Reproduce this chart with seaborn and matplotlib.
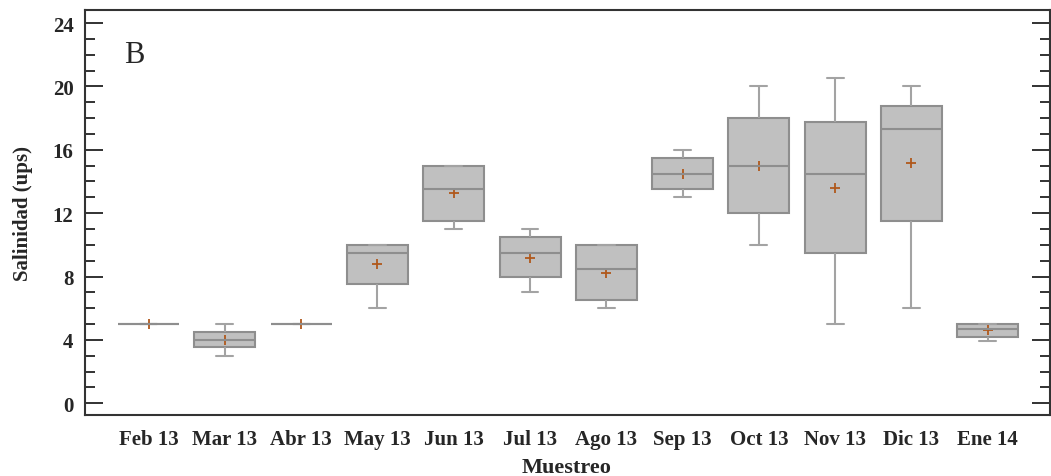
import matplotlib
matplotlib.use("Agg")
import matplotlib.pyplot as plt
from matplotlib.ticker import MultipleLocator
import seaborn as sns
import pandas as pd

months = ["Feb 13", "Mar 13", "Abr 13", "May 13", "Jun 13", "Jul 13",
          "Ago 13", "Sep 13", "Oct 13", "Nov 13", "Dic 13", "Ene 14"]
minimum = [5.0, 3.0, 5.0, 6.0, 11.0, 7.0, 6.0, 13.0, 10.0, 5.0, 6.0, 3.95]
q1      = [5.0, 3.55, 5.0, 7.5, 11.5, 8.0, 6.5, 13.5, 12.0, 9.5, 11.5, 4.2]
median  = [5.0, 4.0, 5.0, 9.5, 13.5, 9.5, 8.5, 14.5, 15.0, 14.5, 17.3, 4.7]
q3      = [5.0, 4.5, 5.0, 10.0, 15.0, 10.5, 10.0, 15.5, 18.0, 17.75, 18.75, 5.0]
maximum = [5.0, 5.0, 5.0, 10.0, 15.0, 11.0, 10.0, 16.0, 20.0, 20.5, 20.05, 5.0]
means   = [5.0, 4.0, 5.0, 8.8, 13.25, 9.2, 8.25, 14.5, 15.0, 13.6, 15.15, 4.65]

rows = []
for i, m in enumerate(months):
    for v in (minimum[i], q1[i], median[i], q3[i], maximum[i]):
        rows.append({"Muestreo": m, "Salinidad": v})
df = pd.DataFrame(rows)

sns.set_style("ticks")
plt.rcParams["font.family"] = ["Liberation Serif", "DejaVu Serif"]

fig = plt.figure(figsize=(10.51, 4.77), dpi=100)
ax = fig.add_axes([0.0804, 0.1279, 0.9182, 0.849])

box_edge = "#8e8e8e"
sns.boxplot(data=df, x="Muestreo", y="Salinidad", order=months, ax=ax,
            whis=(0, 100), width=0.8, color="#c0c0c0", linecolor=box_edge,
            linewidth=1.5, showfliers=False, saturation=1,
            whiskerprops=dict(color="#a3a3a3", linewidth=1.5),
            capprops=dict(color="#a3a3a3", linewidth=1.5),
            medianprops=dict(color=box_edge, linewidth=1.5),
            capwidths=0.22)

sns.pointplot(x=months, y=means, order=months, ax=ax, linestyle="none",
              marker="+", color="#b0581c", markersize=7, markeredgewidth=1.3,
              errorbar=None)

ax.set_xlim(-0.84, 11.81)
ax.set_ylim(-0.74, 24.82)
ax.yaxis.set_major_locator(MultipleLocator(4))
ax.yaxis.set_minor_locator(MultipleLocator(1))

ax.tick_params(axis="y", which="major", direction="in", length=13, width=1.3,
               left=True, right=True, color="#222222", pad=8,
               labelsize=15)
ax.tick_params(axis="y", which="minor", direction="in", length=7, width=1.3,
               left=True, right=True, color="#222222")
ax.tick_params(axis="x", which="both", length=0, pad=10, labelsize=15)
for lab in ax.get_xticklabels() + ax.get_yticklabels():
    lab.set_fontweight("bold")

ax.set_xlabel("Muestreo", fontsize=16, fontweight="bold", labelpad=6)
ax.set_ylabel("Salinidad (ups)", fontsize=15, fontweight="bold", labelpad=14)

for s in ax.spines.values():
    s.set_visible(True)
    s.set_color("#333333")
    s.set_linewidth(1.5)

ax.text(0.041, 0.872, "B", transform=ax.transAxes, fontsize=22,
        ha="left", va="baseline")

fig.savefig("out.png", dpi=100)
